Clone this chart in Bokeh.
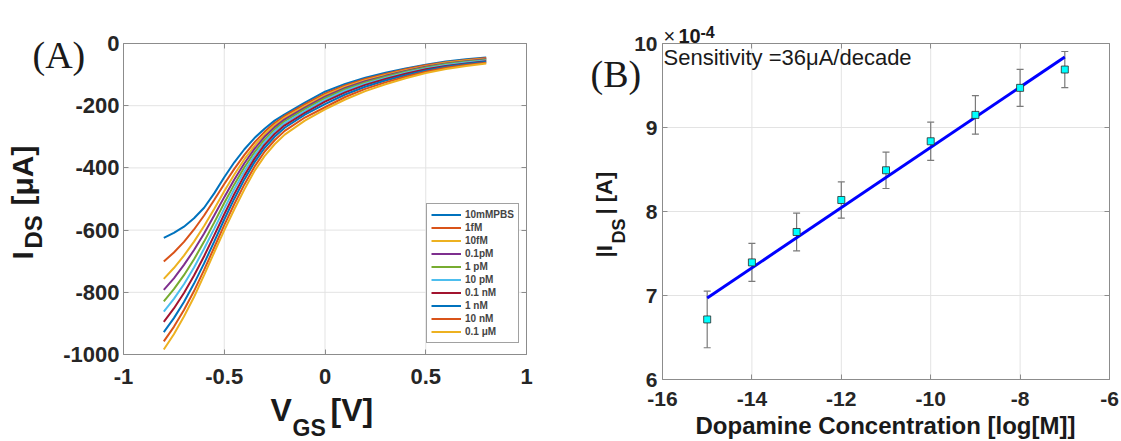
import math
from bokeh.plotting import figure
from bokeh.models import (Range1d, FixedTicker, Label, Whisker, ColumnDataSource,
                          TeeHead, LinearAxis)
from bokeh.layouts import row
from bokeh.embed import file_html
from bokeh.resources import INLINE

# ---------------- Panel A data ----------------
vgs = [-0.8, -0.75, -0.7, -0.65, -0.6, -0.55, -0.5, -0.45, -0.4, -0.35, -0.3, -0.25,
       -0.2, -0.1, 0.0, 0.1, 0.2, 0.3, 0.4, 0.5, 0.6, 0.7, 0.8]

ids_pbs = [-625, -609, -589, -562, -528, -482, -430, -382, -340, -304, -274, -248,
           -228, -190, -155, -130, -110, -94, -80, -68, -58, -51, -45]
ids_1fM = [-701, -672, -638, -598, -553, -503, -452, -403, -358, -318, -284, -256,
           -233, -196, -161, -135, -114, -98, -83, -70, -60, -53, -47]
ids_10fM = [-757, -722, -682, -637, -587, -532, -475, -421, -372, -329, -292, -262,
            -238, -201, -166, -139, -118, -101, -86, -73, -62, -55, -49]
ids_01pM = [-792, -755, -712, -664, -611, -553, -494, -437, -385, -339, -300, -269,
            -244, -206, -171, -143, -121, -104, -88, -75, -64, -57, -51]
ids_1pM = [-829, -790, -745, -694, -637, -576, -513, -453, -398, -350, -309, -276,
           -250, -211, -176, -147, -125, -107, -91, -77, -66, -59, -53]
ids_10pM = [-862, -821, -774, -720, -660, -596, -531, -468, -411, -360, -317, -283,
            -256, -217, -181, -152, -129, -111, -94, -80, -69, -61, -55]
ids_01nM = [-895, -852, -802, -746, -684, -617, -549, -484, -424, -371, -326, -291,
            -263, -223, -187, -157, -133, -114, -97, -83, -72, -64, -57]
ids_1nM = [-928, -883, -831, -772, -707, -637, -566, -499, -437, -382, -336, -300,
           -271, -229, -195, -164, -139, -119, -102, -87, -75, -66, -59]
ids_10nM = [-958, -911, -857, -796, -728, -656, -584, -516, -453, -396, -348, -311,
            -281, -238, -205, -172, -146, -125, -107, -91, -78, -69, -62]
ids_01uM = [-984, -935, -878, -815, -745, -672, -601, -533, -469, -410, -362, -324,
            -293, -248, -212, -180, -153, -131, -112, -95, -82, -72, -64]

series_a = [ids_pbs, ids_1fM, ids_10fM, ids_01pM, ids_1pM, ids_10pM,
            ids_01nM, ids_1nM, ids_10nM, ids_01uM]
labels_a = ["10mMPBS", "1fM", "10fM", "0.1pM", "1 pM", "10 pM",
            "0.1 nM", "1 nM", "10 nM", "0.1 \u03bcM"]
colors_a = ["#0072BD", "#D95319", "#EDB120", "#7E2F8E", "#77AC30", "#4DBEEE",
            "#A2142F", "#0072BD", "#D95319", "#EDB120"]

xlim_a = (-1, 1)
ylim_a = (-1000, 0)
xticks_a = [-1, -0.5, 0, 0.5, 1]
xticklabels_a = ["-1", "-0.5", "0", "0.5", "1"]
yticks_a = [-1000, -800, -600, -400, -200, 0]
yticklabels_a = ["-1000", "-800", "-600", "-400", "-200", "0"]

# ---------------- Panel B data ----------------
log_conc = [-15, -14, -13, -12, -11, -10, -9, -8, -7]
ids_mean_e4 = [6.715, 7.394, 7.756, 8.137, 8.491, 8.836, 9.150, 9.472, 9.690]
ids_err_e4 = [0.337, 0.226, 0.225, 0.215, 0.217, 0.227, 0.230, 0.220, 0.215]
fit_x = [-15, -7]
fit_y_e4 = [6.97, 9.84]

xlim_b = (-16, -6)
ylim_b = (6, 10)
xticks_b = [-16, -14, -12, -10, -8, -6]
xticklabels_b = ["-16", "-14", "-12", "-10", "-8", "-6"]
yticks_b = [6, 7, 8, 9, 10]
yticklabels_b = ["6", "7", "8", "9", "10"]

# ---------------- layout constants (pixels) ----------------
H = 441
WA = 560
WB = 1121 - WA
SANS = "Liberation Sans"
SERIF = "Liberation Serif"
GRID = "#E3E3E3"
AXC = "#8C8C8C"
TXT = "#1a1a1a"
BASE_SHIFT = 0.42  # label anchor vs. alphabetic baseline, in em


def canvas_range(lim, p0, p1, size, flip=False):
    a, b = lim
    if flip:
        per = (p0 - p1) / (b - a)
        return Range1d(a - (size - p0) / per, b + p1 / per)
    per = (p1 - p0) / (b - a)
    return Range1d(a - p0 / per, b + (size - p1) / per)


def make_fig(width, xr, yr):
    p = figure(width=width, height=H, output_backend="svg", toolbar_location=None,
               x_range=xr, y_range=yr, min_border=0, title_location=None)
    p.outline_line_color = None
    p.xgrid.visible = False
    p.ygrid.visible = False
    p.background_fill_color = "white"
    p.border_fill_color = "white"
    return p


def style_axis(ax, ticks, labels, fs, standoff, blank=False):
    ax.ticker = FixedTicker(ticks=ticks)
    ax.major_label_overrides = {t: ("" if blank else s) for t, s in zip(ticks, labels)}
    ax.major_label_text_font = SANS
    ax.major_label_text_font_style = "bold"
    ax.major_label_text_font_size = fs
    ax.major_label_text_color = "#262626"
    ax.major_label_standoff = standoff
    ax.major_tick_in = 5
    ax.major_tick_out = 0
    ax.minor_tick_line_color = None
    ax.axis_line_color = AXC
    ax.major_tick_line_color = AXC


def box_axes(p, xlim, ylim, xt, xl, yt, yl, fs, xs, ys):
    bx = p.below[0]
    bx.fixed_location = ylim[0]
    bx.bounds = xlim
    style_axis(bx, xt, xl, fs, xs)
    ly = p.left[0]
    ly.fixed_location = xlim[0]
    ly.bounds = ylim
    style_axis(ly, yt, yl, fs, ys)
    top = LinearAxis(fixed_location=ylim[1], bounds=xlim)
    style_axis(top, xt, xl, fs, 0, blank=True)
    p.add_layout(top, "above")
    rt = LinearAxis(fixed_location=xlim[1], bounds=ylim)
    style_axis(rt, yt, yl, fs, 0, blank=True)
    p.add_layout(rt, "right")
    p.segment(x0=xt, y0=[ylim[0]] * len(xt), x1=xt, y1=[ylim[1]] * len(xt),
              line_color=GRID, line_width=1, level="underlay")
    p.segment(x0=[xlim[0]] * len(yt), y0=yt, x1=[xlim[1]] * len(yt), y1=yt,
              line_color=GRID, line_width=1, level="underlay")


def lab(p, px, py, text, fs, bold=True, rotated=False, font=SANS, align="left"):
    """px, py: alphabetic-baseline anchor in pixels within the figure (from top-left)."""
    shift = BASE_SHIFT * fs
    if rotated:
        x, y, ang = px - shift, H - py, math.pi / 2
    else:
        x, y, ang = px, H - py + shift, 0.0
    p.add_layout(Label(x=x, y=y, x_units="screen", y_units="screen", text=text,
                       angle=ang, text_font=font, text_font_size=f"{fs}px",
                       text_font_style="bold" if bold else "normal",
                       text_align=align, text_baseline="alphabetic",
                       text_color=TXT))


# ---------------- Figure A ----------------
pa = make_fig(WA, canvas_range(xlim_a, 123, 526, WA),
              canvas_range(ylim_a, 354, 43, H, flip=True))
box_axes(pa, xlim_a, ylim_a, xticks_a, xticklabels_a, yticks_a, yticklabels_a,
         "22px", 14, 4)

for vals, lbl, col in zip(series_a, labels_a, colors_a):
    pa.line(vgs, vals, line_color=col, line_width=2.0, legend_label=lbl)

lg = pa.legend[0]
lg.location = (426, H - 343)
lg.label_text_font = SANS
lg.label_text_font_style = "bold"
lg.label_text_font_size = "10px"
lg.label_height = 13
lg.glyph_height = 13
lg.glyph_width = 30
lg.label_standoff = 4
lg.spacing = 0
lg.padding = 4
lg.margin = 0
lg.border_line_color = "#444444"
lg.border_line_width = 1
lg.background_fill_alpha = 1.0

# y label  I_DS [uA]
lab(pa, 35, 259, "I", 30, rotated=True)
lab(pa, 43, 248, "DS", 24, rotated=True)
lab(pa, 35, 205, "[\u03bcA]", 30, rotated=True)
# x label  V_GS [V]
lab(pa, 270, 423, "V", 32)
lab(pa, 292, 437, "GS", 23)
lab(pa, 330, 423, "[V]", 32)
# panel tag
lab(pa, 32, 70, "(A)", 38, bold=False, font=SERIF)

# ---------------- Figure B ----------------
pb = make_fig(WB, canvas_range(xlim_b, 662 - WA, 1109 - WA, WB),
              canvas_range(ylim_b, 379, 43, H, flip=True))
box_axes(pb, xlim_b, ylim_b, xticks_b, xticklabels_b, yticks_b, yticklabels_b,
         "21px", 12, 5)

src = ColumnDataSource(dict(
    x=log_conc, y=ids_mean_e4,
    lo=[m - e for m, e in zip(ids_mean_e4, ids_err_e4)],
    hi=[m + e for m, e in zip(ids_mean_e4, ids_err_e4)]))
wk = Whisker(base="x", lower="lo", upper="hi", source=src,
             line_color="#7a7a7a", line_width=1.2,
             upper_head=TeeHead(size=7, line_color="#7a7a7a", line_width=1.2),
             lower_head=TeeHead(size=7, line_color="#7a7a7a", line_width=1.2))
pb.add_layout(wk)
pb.line(fit_x, fit_y_e4, line_color="#0000FF", line_width=3)
pb.scatter("x", "y", source=src, marker="square", size=7,
           fill_color="#00FFFF", line_color="#2a2a2a", line_width=0.8)

# y label |I_DS| [A]
lab(pb, 613 - WA, 257, "|I", 22, rotated=True)
lab(pb, 626 - WA, 243, "DS", 18, rotated=True)
lab(pb, 613 - WA, 214, "| [A]", 22, rotated=True)
# x label
lab(pb, 885 - WA, 435, "Dopamine Concentration [log[M]]", 24, align="center")
# exponent  x10^-4
lab(pb, 663 - WA, 44, "\u00d7", 20, bold=False)
lab(pb, 678 - WA, 44, "10", 20)
lab(pb, 700 - WA, 38, "-4", 16)
# annotation
lab(pb, 663 - WA, 66, "Sensitivity =36\u03bcA/decade", 22, bold=False)
# panel tag
lab(pb, 590 - WA, 89, "(B)", 38, bold=False, font=SERIF)

layout = row(pa, pb)
open("out.html", "w").write(file_html(layout, INLINE))
